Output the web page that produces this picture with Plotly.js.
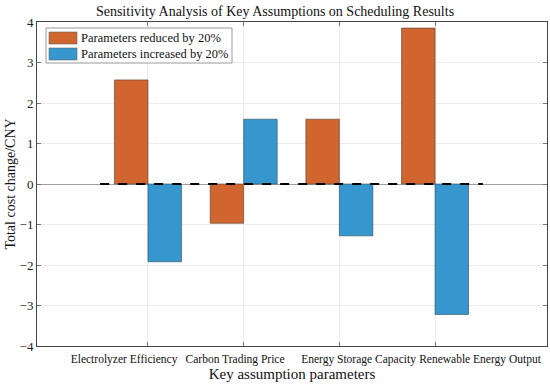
<!DOCTYPE html>
<html>
<head>
<meta charset="utf-8">
<script src="https://cdn.plot.ly/plotly-3.0.1.min.js"></script>
<style>html,body{margin:0;padding:0;background:#fff;}#chart{width:550px;height:389px;}</style>
</head>
<body>
<div id="chart"></div>
<script>
const categories = ["Electrolyzer Efficiency", "Carbon Trading Price", "Energy Storage Capacity", "Renewable Energy Output"];
const reduced20 = [2.57, -0.97, 1.60, 3.85];
const increased20 = [-1.92, 1.60, -1.28, -3.22];
const seriesNames = ["Parameters reduced by 20%", "Parameters increased by 20%"];
const seriesColors = ["#D0652F", "#3597CE"];
const yTicks = [-4, -3, -2, -1, 0, 1, 2, 3, 4];

// layout-only: label anchor positions (in category index units)
const labelPos = [-0.25, 0.91, 2.2, 3.47];

const font = "Liberation Serif, serif";
const idx = categories.map((_, i) => i);

const traces = [
  {type: "bar", name: seriesNames[0], x: idx, y: reduced20, showlegend: false,
   marker: {color: seriesColors[0], line: {color: "#5a3a2a", width: 0.6}}},
  {type: "bar", name: seriesNames[1], x: idx, y: increased20, showlegend: false,
   marker: {color: seriesColors[1], line: {color: "#2a4a5a", width: 0.6}}},
  {type: "scatter", mode: "none", x: labelPos, y: [0,0,0,0], xaxis: "x2", showlegend: false, hoverinfo: "skip"}
];

// plot-area pixel box -> paper coordinates helpers (layout only)
const PL = 37, PR = 547, PT = 22, PB = 346;
const px = v => (v - PL) / (PR - PL);
const py = v => (PB - v) / (PB - PT);

const shapes = [
  {type: "line", xref: "x", yref: "y", x0: -0.5, x1: 3.5, y0: 0, y1: 0,
   line: {color: "#000", width: 2, dash: "dash"}},
  {type: "rect", xref: "paper", yref: "paper", x0: px(46), x1: px(232), y0: py(63), y1: py(28),
   fillcolor: "#fff", line: {color: "#999", width: 1}}
];
const annotations = [];
seriesNames.forEach((nm, i) => {
  const top = 32 + i * 16;
  shapes.push({type: "rect", xref: "paper", yref: "paper", x0: px(49), x1: px(77), y0: py(top + 12), y1: py(top),
               fillcolor: seriesColors[i], line: {color: "#666", width: 0.6}});
  annotations.push({xref: "paper", yref: "paper", x: px(79), y: py(top + 6), xanchor: "left", yanchor: "middle",
                    text: nm, showarrow: false, font: {family: font, size: 12.5, color: "#111"}});
});

const xr = [-1.16, 4.17];
const layout = {
  width: 550, height: 389,
  margin: {l: PL, r: 550 - PR, t: PT, b: 389 - PB},
  paper_bgcolor: "#fff", plot_bgcolor: "#fff",
  font: {family: font, color: "#262626", size: 12},
  title: {text: "Sensitivity Analysis of Key Assumptions on Scheduling Results",
          font: {family: font, size: 14, color: "#111"}, x: 0.5, xanchor: "center", y: 0.972, yanchor: "middle"},
  barmode: "group", bargap: 0.3, bargroupgap: 0,
  showlegend: false,
  xaxis: {type: "linear", range: xr, tickvals: idx, showticklabels: false,
          ticks: "inside", ticklen: 4, tickcolor: "#777",
          showgrid: true, gridcolor: "#ececec", zeroline: false,
          showline: true, linecolor: "#444", linewidth: 1, mirror: "ticks"},
  xaxis2: {overlaying: "x", anchor: "y", side: "bottom", range: xr, type: "linear",
           tickvals: labelPos, ticktext: categories, ticks: "", showgrid: false, zeroline: false,
           showline: false, ticklabelstandoff: 4, tickfont: {family: font, size: 11.5, color: "#111"},
           title: {text: "Key assumption parameters", font: {family: font, size: 15, color: "#111"}, standoff: 3}},
  yaxis: {range: [-4, 4], tickvals: yTicks, ticks: "inside", ticklen: 4, tickcolor: "#777",
          showgrid: true, gridcolor: "#ececec",
          zeroline: true, zerolinecolor: "#a0a0a0", zerolinewidth: 1,
          showline: true, linecolor: "#444", linewidth: 1, mirror: "ticks",
          tickfont: {family: font, size: 13, color: "#222"},
          title: {text: "Total cost change/CNY", font: {family: font, size: 14, color: "#111"}, standoff: 0}},
  shapes: shapes,
  annotations: annotations
};

Plotly.newPlot("chart", traces, layout, {displayModeBar: false, staticPlot: true});
</script>
</body>
</html>
